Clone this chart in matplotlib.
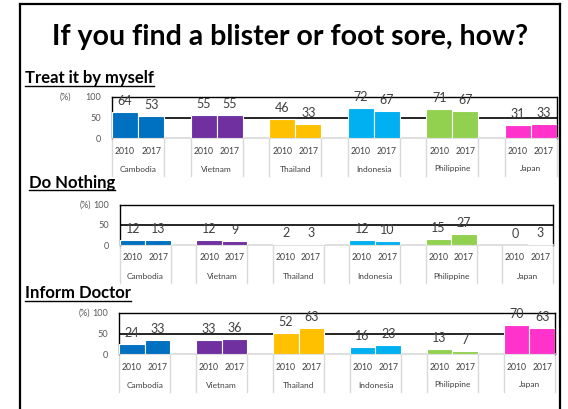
import numpy as np
import matplotlib
matplotlib.use('Agg')
import matplotlib.pyplot as plt
from matplotlib.lines import Line2D

plt.rcParams['font.family'] = ['Lato', 'DejaVu Sans']

# data
countries = ['Cambodia', 'Vietnam', 'Thailand', 'Indonesia', 'Philippine', 'Japan']
years = ['2010', '2017']
colors = ['#0070C0', '#7030A0', '#FFC000', '#00B0F0', '#92D050', '#FF33CC']

treat_2010 = [64, 55, 46, 72, 71, 31]
treat_2017 = [53, 55, 33, 67, 67, 33]
nothing_2010 = [12, 12, 2, 12, 15, 0]
nothing_2017 = [13, 9, 3, 10, 27, 3]
doctor_2010 = [24, 33, 52, 16, 13, 70]
doctor_2017 = [33, 36, 63, 23, 7, 63]

W, H = 568, 409
fig = plt.figure(figsize=(W / 100, H / 100), dpi=100)


def px_box(l, t, r, b):
	return [l / W, 1 - b / H, (r - l) / W, (b - t) / H]


def fx(x):
	return x / W


def fy(y):
	return 1 - y / H


# outer frame (bottom runs off the picture)
for xs, ys in [([20, 20], [4, 420]), ([20, 560], [4, 4]), ([560, 560], [4, 420])]:
	fig.add_artist(Line2D([fx(x) for x in xs], [fy(y) for y in ys], color='black', lw=1.6))

fig.text(fx(290), fy(45), 'If you find a blister or foot sore, how?', ha='center', va='baseline',
		 fontsize=20.5, fontweight='bold', color='black')

panels = [
	# title, v2010, v2017, title pos, plot box (l, t, r, b)
	('Treat it by myself', treat_2010, treat_2017, (25, 83), (112, 97, 557, 138)),
	('Do Nothing', nothing_2010, nothing_2017, (29, 188), (120, 205, 553, 245)),
	('Inform Doctor', doctor_2010, doctor_2017, (25, 298), (119, 313, 555, 354)),
]

titles = []
for name, v10, v17, (tx, ty), (l, t, r, b) in panels:
	titles.append(fig.text(fx(tx), fy(ty), name, ha='left', va='baseline',
						   fontsize=12, fontweight='bold', color='black'))

	ax = fig.add_axes(px_box(l, t, r, b))
	h = b - t
	nslots = len(countries) * 3 - 1
	ax.set_xlim(0, nslots)
	ax.set_ylim(0, 100)

	ax.axhline(50, color='black', lw=1.2, zorder=1)
	for i, c in enumerate(countries):
		x0 = i * 3
		vals = [v10[i], v17[i]]
		ax.bar([x0 + 0.5, x0 + 1.5], vals, width=1, color=colors[i],
			   edgecolor='white', linewidth=0.8, zorder=3)
		for k, v in enumerate(vals):
			ax.annotate(str(v), (x0 + 0.5 + k, v), xytext=(0, 11), textcoords='offset pixels',
						ha='center', va='center', fontsize=9, color='#404040',
						annotation_clip=False, zorder=5)
			ax.text(x0 + 0.5 + k, -13 / h, years[k], transform=ax.get_xaxis_transform(),
					ha='center', va='center', fontsize=6.2, color='#404040')
		ax.text(x0 + 1, -31 / h, c, transform=ax.get_xaxis_transform(),
				ha='center', va='center', fontsize=6, color='#404040')
		for xs in (x0, x0 + 2):
			ax.plot([xs, xs], [0, -38 / h], transform=ax.get_xaxis_transform(),
					color='#D9D9D9', lw=1, clip_on=False)

	for s in ('top', 'left', 'right'):
		ax.spines[s].set_color('black')
		ax.spines[s].set_linewidth(1.0)
	ax.spines['bottom'].set_color('#D9D9D9')
	ax.spines['bottom'].set_linewidth(1.2)
	ax.set_xticks([])
	ax.set_yticks([0, 50, 100])
	ax.tick_params(axis='y', length=0, pad=8, labelsize=6.6, labelcolor='#595959')
	ax.text(-0.105 if l < 115 else -0.08, 1.0, '(%)', transform=ax.transAxes,
			ha='center', va='center', fontsize=6.3, color='#595959')

# underline the section titles
fig.canvas.draw()
rend = fig.canvas.get_renderer()
for t in titles:
	bb = t.get_window_extent(rend).transformed(fig.transFigure.inverted())
	base_y = t.get_position()[1] - 2.5 / H
	fig.add_artist(Line2D([bb.x0, bb.x1], [base_y, base_y], color='black', lw=1.0))

fig.savefig('out.png', dpi=100)
